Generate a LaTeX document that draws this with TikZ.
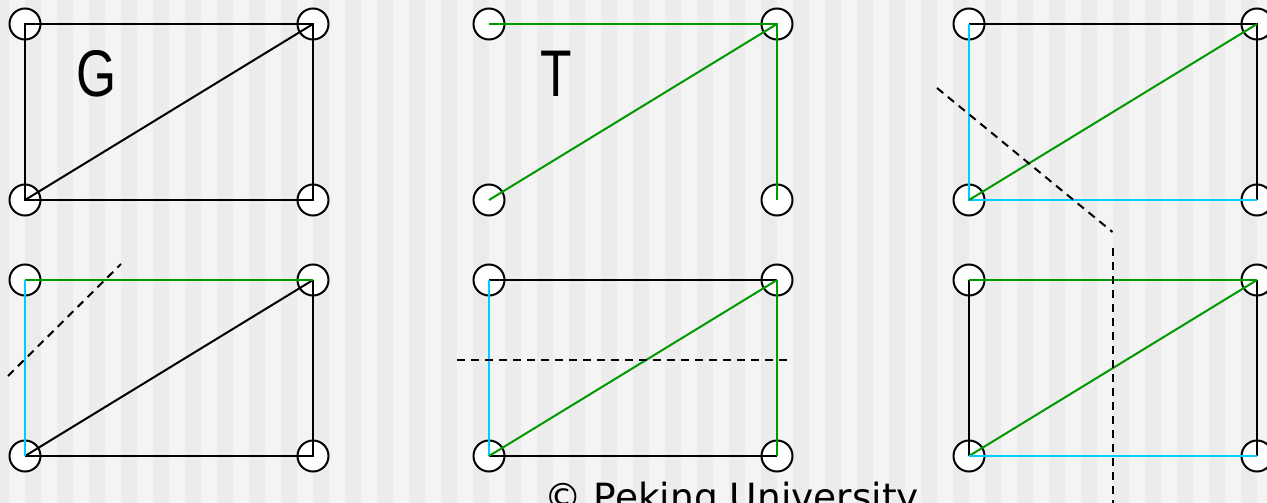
\documentclass[tikz,border=0pt]{standalone}
\usepackage{fontspec}
\newfontfamily\labelfont{Liberation Sans}
\newfontfamily\copyfont{DejaVu Sans}
\definecolor{tgreen}{RGB}{0,153,0}
\definecolor{tcyan}{RGB}{0,204,255}
\definecolor{stripedark}{RGB}{236,236,236}
\definecolor{stripelight}{RGB}{244,244,244}
\begin{document}
\begin{tikzpicture}[x=1pt,y=-1pt,
  vert/.style={circle,draw=black,fill=white,line width=2pt,minimum size=31pt,inner sep=0pt},
  blk/.style={draw=black,line width=2pt},
  grn/.style={draw=tgreen,line width=2pt},
  cyn/.style={draw=tcyan,line width=2pt},
  cut/.style={draw=black,line width=2pt,dash pattern=on 8pt off 6pt},
  biglabel/.style={font=\labelfont\fontsize{66}{66}\selectfont,inner sep=0pt,xscale=0.78}]
\useasboundingbox (0,0) rectangle (1267,503);
\clip (0,0) rectangle (1267,503);
\fill[stripelight] (0,0) rectangle (1267,503);
\foreach \k in {0,...,40} \fill[stripedark] (-7.3+32*\k,0) rectangle (8.7+32*\k,503);

\foreach \n/\x/\y in {1/25/24, 2/489/24, 3/969/24, 4/25/280, 5/489/280, 6/969/280} {
  \node[vert] (a\n) at (\x,\y) {};
  \node[vert] (b\n) at (\x+288,\y) {};
  \node[vert] (c\n) at (\x,\y+176) {};
  \node[vert] (d\n) at (\x+288,\y+176) {};
}

% panel 1 (G)
\draw[blk] (a1.center) -- (b1.center) -- (d1.center) -- (c1.center) -- cycle;
\draw[blk] (c1.center) -- (b1.center);
% panel 2 (T)
\draw[grn] (a2.center) -- (b2.center) -- (d2.center);
\draw[grn] (c2.center) -- (b2.center);
% panel 3
\draw[blk] (a3.center) -- (b3.center) -- (d3.center);
\draw[cyn] (a3.center) -- (c3.center) -- (d3.center);
\draw[grn] (c3.center) -- (b3.center);
% panel 4
\draw[blk] (c4.center) -- (b4.center);
\draw[blk] (b4.center) -- (d4.center) -- (c4.center);
\draw[grn] (a4.center) -- (b4.center);
\draw[cyn] (a4.center) -- (c4.center);
% panel 5
\draw[blk] (a5.center) -- (b5.center);
\draw[blk] (c5.center) -- (d5.center);
\draw[cyn] (a5.center) -- (c5.center);
\draw[grn] (b5.center) -- (d5.center);
\draw[grn] (c5.center) -- (b5.center);
% panel 6
\draw[blk] (a6.center) -- (c6.center);
\draw[blk] (b6.center) -- (d6.center);
\draw[grn] (a6.center) -- (b6.center);
\draw[grn] (c6.center) -- (b6.center);
\draw[cyn] (c6.center) -- (d6.center);

% cuts
\coordinate (k1s) at (937,88);
\coordinate (k1e) at (1112.5,232);
\coordinate (k2s) at (1113,248);
\coordinate (k2e) at (1113,515);
\coordinate (k3s) at (8,376);
\coordinate (k3e) at (121,264);
\coordinate (k4s) at (457,359.5);
\coordinate (k4e) at (788,359.5);
\draw[cut] (k1s) -- (k1e);
\draw[cut] (k2s) -- (k2e);
\draw[cut] (k3s) -- (k3e);
\draw[cut] (k4s) -- (k4e);

% labels
\node[biglabel] (G) at (96.5,73.5) {G};
\node[biglabel] (T) at (556.7,73.5) {T};
\node[font=\copyfont\fontsize{37.5}{37.5}\selectfont,anchor=base,inner sep=0pt] (cr) at (731.7,510) {© Peking University};
\end{tikzpicture}
\end{document}
